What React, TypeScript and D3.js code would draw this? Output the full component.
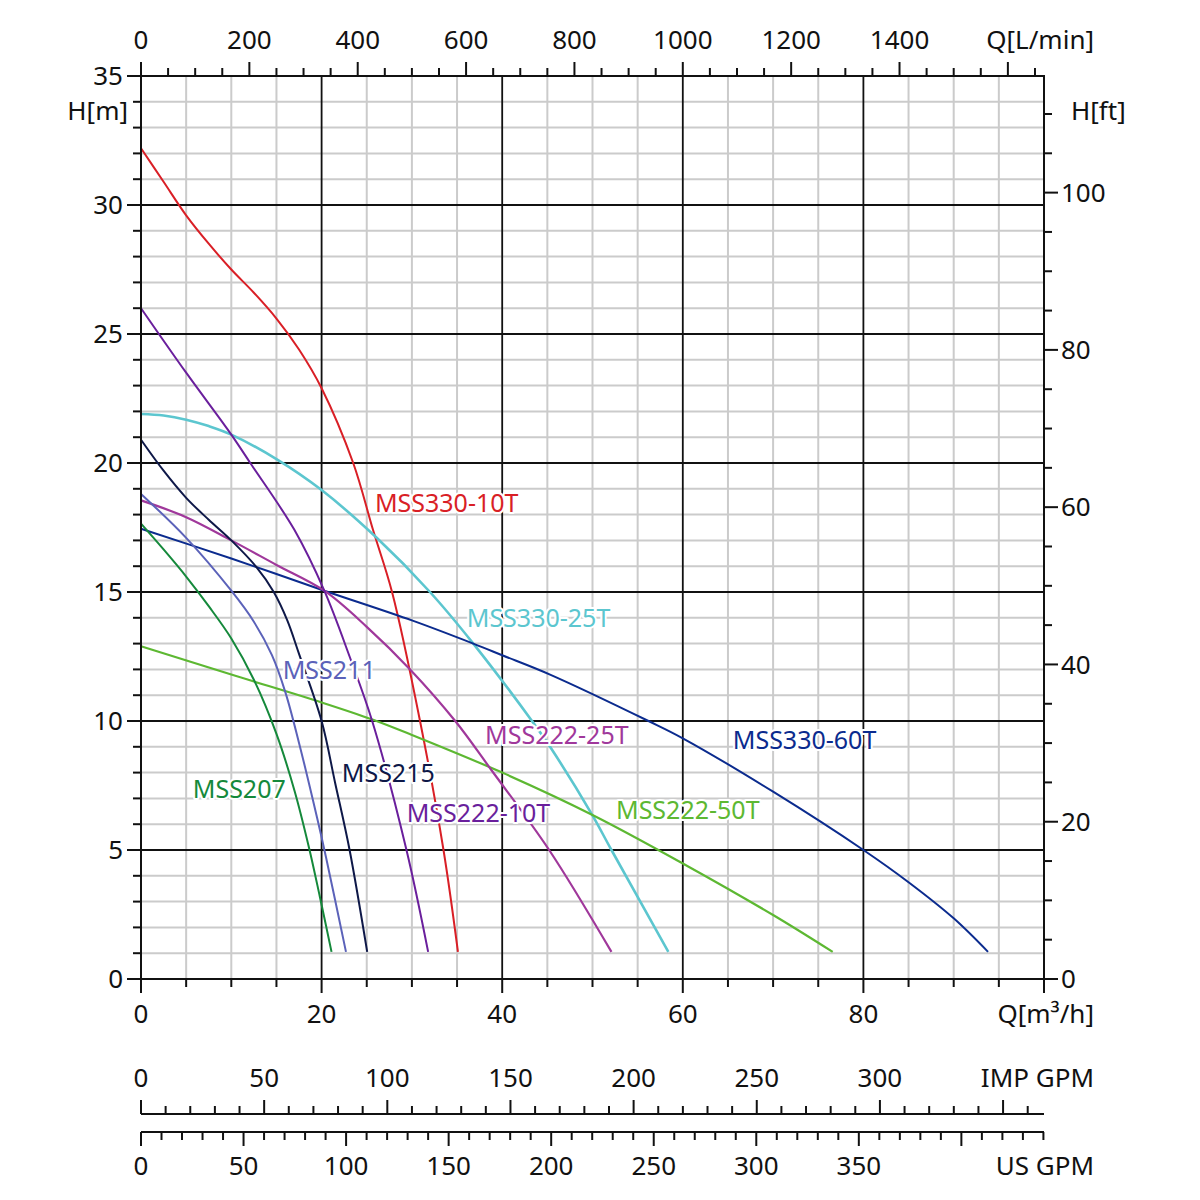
import React from 'react';
import * as d3 from 'd3';

const FONT = "'Noto Sans', 'Open Sans', sans-serif";

// ---- data (Q [m3/h], H [m]) ----
const mss330_10T: [number, number][] = [[0, 32.2], [2.5, 30.9], [5, 29.6], [7.5, 28.5], [10, 27.5], [12.5, 26.6], [15, 25.6], [17.5, 24.4], [20, 22.9], [23.5, 20], [25.7, 17.4], [27.8, 15], [30.9, 10], [33.5, 5], [35.1, 1.05]];
const mss330_25T: [number, number][] = [[0, 21.9], [2.5, 21.84], [5, 21.68], [7.5, 21.43], [10, 21.1], [15, 20.15], [20, 18.95], [26.1, 17.1], [32, 15], [36.8, 13], [43.3, 10], [45.3, 9], [49.9, 6.4], [52.1, 5], [58.4, 1.05]];
const mss330_60T: [number, number][] = [[0, 17.45], [10, 16.3], [20.3, 15.05], [30, 13.9], [36.8, 13.0], [40, 12.55], [45.3, 11.8], [56.2, 10], [60, 9.33], [70, 7.26], [80, 5.0], [85, 3.75], [90, 2.35], [93.8, 1.05]];
const mss222_50T: [number, number][] = [[0, 12.9], [10, 11.8], [20, 10.72], [25.7, 10.05], [30, 9.46], [40, 8.0], [50, 6.36], [60, 4.48], [70, 2.48], [76.6, 1.05]];
const mss222_25T: [number, number][] = [[0, 18.55], [5, 17.9], [10, 17.0], [15, 16.05], [20.3, 15.05], [25, 13.65], [29.8, 12], [34.8, 10], [38.8, 8.1], [45.2, 5], [52.1, 1.05]];
const mss222_10T: [number, number][] = [[0, 26], [5, 23.5], [10, 21.1], [12.1, 20], [17, 17.4], [20.3, 15.05], [23.1, 12.5], [25.6, 10], [29.4, 5], [31.8, 1.05]];
const mss215: [number, number][] = [[0, 20.9], [2.5, 19.7], [5, 18.65], [7.5, 17.8], [10, 17.0], [12.7, 16.0], [14.7, 15.0], [16.2, 13.9], [17.5, 12.6], [20, 10.0], [21.5, 7.6], [23.1, 5], [25.05, 1.05]];
const mss211: [number, number][] = [[0, 18.8], [5, 17.1], [10, 15.05], [12.5, 13.85], [14.5, 12.55], [16, 11.1], [17.5, 9.15], [19.5, 6.25], [20.5, 4.7], [22.7, 1.05]];
const mss207: [number, number][] = [[0, 17.65], [2.5, 16.65], [5, 15.6], [7.5, 14.45], [10, 13.2], [12.5, 11.6], [15, 9.5], [17, 7.3], [18.6, 5.1], [19.8, 3.2], [21.1, 1.05]];

const seriesNames = ['MSS330-10T', 'MSS330-25T', 'MSS330-60T', 'MSS222-50T', 'MSS222-25T', 'MSS222-10T', 'MSS215', 'MSS211', 'MSS207'];
const seriesData = [mss330_10T, mss330_25T, mss330_60T, mss222_50T, mss222_25T, mss222_10T, mss215, mss211, mss207];
const seriesColors = ['#d91f26', '#5cc6cf', '#0b2b8e', '#5db832', '#a0389b', '#6a1f9c', '#0e1848', '#5b62b9', '#15893b'];
const seriesWidths = [2, 2.6, 2, 2.2, 2.2, 2, 2, 2, 2];
// label anchor (Q, H) of text start / baseline
const labelQ = [25.9, 36.07, 65.53, 52.6, 38.1, 29.42, 22.23, 15.69, 5.73];
const labelH = [18.1, 13.63, 8.91, 6.19, 9.11, 6.1, 7.65, 11.62, 7.02];

// ---- axes ----
const Q_MAX = 100;
const H_MAX = 35;
const qTickLabels = [0, 20, 40, 60, 80];
const hTickLabels = [0, 5, 10, 15, 20, 25, 30, 35];
const lminTickLabels = [0, 200, 400, 600, 800, 1000, 1200, 1400];
const ftTickLabels = [0, 20, 40, 60, 80, 100];
const impTickLabels = [0, 50, 100, 150, 200, 250, 300];
const usTickLabels = [0, 50, 100, 150, 200, 250, 300, 350];
const M3H_PER_IMP = 0.272765;
const M3H_PER_US = 0.227125;

const L = 141, R = 1044, T = 76, B = 979;

export default function App() {
  const x = d3.scaleLinear().domain([0, Q_MAX]).range([L, R]);
  const y = d3.scaleLinear().domain([0, H_MAX]).range([B, T]);
  const xL = d3.scaleLinear().domain([0, Q_MAX * 1000 / 60]).range([L, R]);
  const xImp = d3.scaleLinear().domain([0, Q_MAX / M3H_PER_IMP]).range([L, R]);
  const xUs = d3.scaleLinear().domain([0, Q_MAX / M3H_PER_US]).range([L, R]);
  const yFt = d3.scaleLinear().domain([0, H_MAX / 0.3048]).range([B, T]);

  const line = d3.line<[number, number]>().x(d => x(d[0])).y(d => y(d[1])).curve(d3.curveCatmullRom.alpha(0.5));

  const qGrid = d3.range(5, Q_MAX, 5);
  const hGrid = d3.range(1, H_MAX, 1);
  const qTicks = d3.range(0, Q_MAX + 0.001, 5);
  const hTicks = d3.range(0, H_MAX + 0.001, 1);
  const lTicks = d3.range(0, 1666, 50);
  const ftTicks = d3.range(0, 114, 5);
  const impTicks = d3.range(0, 366, 10);
  const usTicks = d3.range(0, 441, 10);

  const fs = 26;
  const yImp = 1114;
  const yUs = 1132;

  return (
    <svg width={1200} height={1200} style={{ position: 'absolute', left: 0, top: 0, background: '#fff' }} fontFamily={FONT}>
      <rect x={0} y={0} width={1200} height={1200} fill="#fff" />
      {/* minor grid */}
      {qGrid.filter(q => q % 20 !== 0).map(q => (
        <line key={'gq' + q} x1={x(q)} x2={x(q)} y1={T} y2={B} stroke="#cbcbcb" strokeWidth={2} />
      ))}
      {hGrid.filter(h => h % 5 !== 0).map(h => (
        <line key={'gh' + h} x1={L} x2={R} y1={y(h)} y2={y(h)} stroke="#cbcbcb" strokeWidth={2} />
      ))}
      {/* major grid */}
      {qGrid.filter(q => q % 20 === 0).map(q => (
        <line key={'Gq' + q} x1={x(q)} x2={x(q)} y1={T} y2={B} stroke="#111" strokeWidth={1.8} />
      ))}
      {hGrid.filter(h => h % 5 === 0).map(h => (
        <line key={'Gh' + h} x1={L} x2={R} y1={y(h)} y2={y(h)} stroke="#111" strokeWidth={1.8} />
      ))}

      {/* curves */}
      {seriesData.map((d, i) => (
        <path key={'c' + i} d={line(d) || ''} fill="none" stroke={seriesColors[i]} strokeWidth={seriesWidths[i]} />
      ))}

      {/* labels */}
      {seriesNames.map((n, i) => (
        <text key={'l' + i} x={x(labelQ[i])} y={y(labelH[i])} fontSize={25} fill={seriesColors[i]}
          stroke="#fff" strokeWidth={4} paintOrder="stroke" strokeLinejoin="round">{n}</text>
      ))}

      {/* frame */}
      <rect x={L} y={T} width={R - L} height={B - T} fill="none" stroke="#111" strokeWidth={2} />

      {/* left axis */}
      {hTicks.map(h => (
        <line key={'lt' + h} x1={L - (h % 5 === 0 ? 14 : 8)} x2={L} y1={y(h)} y2={y(h)} stroke="#111" strokeWidth={2} />
      ))}
      {hTickLabels.map(h => (
        <text key={'ll' + h} x={L - 18} y={y(h)} dy="0.35em" textAnchor="end" fontSize={fs} fill="#111">{h}</text>
      ))}
      <text x={128} y={120} textAnchor="end" fontSize={fs} fill="#111">H[m]</text>

      {/* right axis */}
      {ftTicks.map(f => (
        <line key={'rt' + f} x1={R} x2={R + (f % 20 === 0 ? 14 : 8)} y1={yFt(f)} y2={yFt(f)} stroke="#111" strokeWidth={2} />
      ))}
      {ftTickLabels.map(f => (
        <text key={'rl' + f} x={R + 17} y={yFt(f)} dy="0.35em" textAnchor="start" fontSize={fs} fill="#111">{f}</text>
      ))}
      <text x={1071} y={120} textAnchor="start" fontSize={fs} fill="#111">H[ft]</text>

      {/* bottom axis */}
      {qTicks.map(q => (
        <line key={'bt' + q} x1={x(q)} x2={x(q)} y1={B} y2={B + (q % 20 === 0 ? 14 : 8)} stroke="#111" strokeWidth={2} />
      ))}
      {qTickLabels.map(q => (
        <text key={'bl' + q} x={x(q)} y={1023} textAnchor="middle" fontSize={fs} fill="#111">{q}</text>
      ))}
      <text x={1094} y={1023} textAnchor="end" fontSize={fs} fill="#111">Q[m³/h]</text>

      {/* top axis L/min */}
      {lTicks.map(v => (
        <line key={'tt' + v} x1={xL(v)} x2={xL(v)} y1={T} y2={T - (v % 200 === 0 ? 14 : 8)} stroke="#111" strokeWidth={2} />
      ))}
      {lminTickLabels.map(v => (
        <text key={'tl' + v} x={xL(v)} y={49} textAnchor="middle" fontSize={fs} fill="#111">{v}</text>
      ))}
      <text x={1094} y={49} textAnchor="end" fontSize={fs} fill="#111">Q[L/min]</text>

      {/* IMP GPM axis */}
      <line x1={L} x2={R} y1={yImp} y2={yImp} stroke="#111" strokeWidth={2} />
      {impTicks.map(v => (
        <line key={'it' + v} x1={xImp(v)} x2={xImp(v)} y1={yImp} y2={yImp - (v % 50 === 0 ? 14 : 8)} stroke="#111" strokeWidth={2} />
      ))}
      {impTickLabels.map(v => (
        <text key={'il' + v} x={xImp(v)} y={1087} textAnchor="middle" fontSize={fs} fill="#111">{v}</text>
      ))}
      <text x={1094} y={1087} textAnchor="end" fontSize={fs} fill="#111">IMP GPM</text>

      {/* US GPM axis */}
      <line x1={L} x2={R} y1={yUs} y2={yUs} stroke="#111" strokeWidth={2} />
      {usTicks.map(v => (
        <line key={'ut' + v} x1={xUs(v)} x2={xUs(v)} y1={yUs} y2={yUs + (v % 50 === 0 ? 14 : 8)} stroke="#111" strokeWidth={2} />
      ))}
      {usTickLabels.map(v => (
        <text key={'ul' + v} x={xUs(v)} y={1175} textAnchor="middle" fontSize={fs} fill="#111">{v}</text>
      ))}
      <text x={1094} y={1175} textAnchor="end" fontSize={fs} fill="#111">US GPM</text>
    </svg>
  );
}
